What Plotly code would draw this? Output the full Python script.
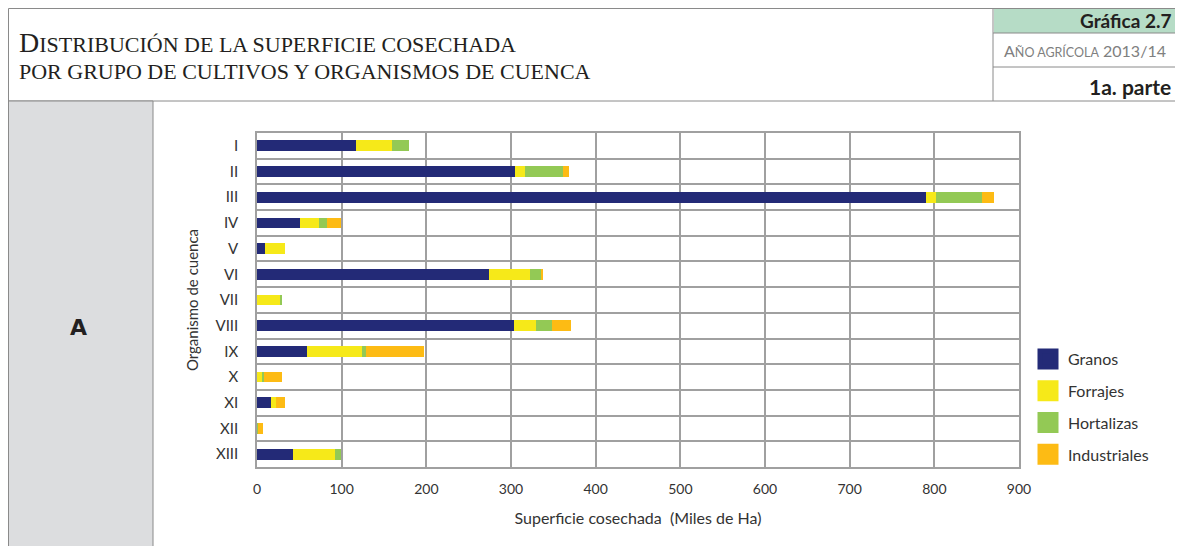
import plotly.graph_objects as go

# superficie cosechada (miles de ha) por organismo de cuenca
organismos = ['I', 'II', 'III', 'IV', 'V', 'VI', 'VII', 'VIII', 'IX', 'X', 'XI', 'XII', 'XIII']
granos = [117, 305, 790, 51, 9, 274, 0, 303, 59, 0.5, 17, 0, 42.5]
forrajes = [42, 12, 12, 22, 24, 49, 28, 27, 65, 6, 6, 0, 49.5]
hortalizas = [20, 45, 54, 10, 0, 13, 1.5, 18, 5, 1.5, 0, 1, 7]
industriales = [0, 7, 15, 16, 0, 1, 0, 23, 68, 21.5, 10.5, 6, 0]

series = [
    ('Granos', granos, '#232A77'),
    ('Forrajes', forrajes, '#F6E919'),
    ('Hortalizas', hortalizas, '#93C955'),
    ('Industriales', industriales, '#FDBB14'),
]

# the page body has an 8px margin, so the figure is drawn 8px smaller
# and every pixel position below is given in window coordinates
OFF = 8
W, H = 1183 - OFF, 546 - OFF
PL, PR, PT, PB = 257, 1019, 133, 467  # plot area in window pixels


def px(x):
    return (x - PL) / (PR - PL)


def py(y):
    return (PB - y) / (PB - PT)


fig = go.Figure()
for name, vals, color in series:
    fig.add_trace(go.Bar(
        y=organismos, x=vals, name=name, orientation='h',
        marker=dict(color=color, line=dict(width=0)),
        width=0.42, showlegend=False,
    ))
    # legend swatch
    fig.add_trace(go.Scatter(
        x=[None], y=[None], mode='markers', name=name,
        marker=dict(symbol='square', size=16, color=color, line=dict(color=color, width=5)),
        legendgroup=name,
    ))

grid = '#a0a0a0'
fig.update_layout(
    width=W, height=H,
    margin=dict(l=PL - OFF, r=W - (PR - OFF), t=PT - OFF, b=H - (PB - OFF)),
    barmode='stack',
    paper_bgcolor='white', plot_bgcolor='white',
    font=dict(family='Lato, sans-serif', color='#333333'),
    xaxis=dict(
        range=[0, 900], dtick=100, showgrid=True, gridcolor=grid, gridwidth=1.5,
        showline=True, linecolor=grid, linewidth=1.5, mirror=True, zeroline=False,
        tickfont=dict(size=14, color='#333333'), ticklabelstandoff=8,
        title=dict(text='Superficie cosechada  (Miles de Ha)', font=dict(size=16, color='#333333'), standoff=17),
    ),
    yaxis=dict(
        autorange='reversed', tickson='boundaries', showgrid=True, gridcolor=grid, gridwidth=1.5,
        showline=True, linecolor=grid, linewidth=1.5, mirror=True, ticks='',
        tickfont=dict(size=15, color='#333333'), ticklabelstandoff=14,
        title=dict(text='Organismo de cuenca', font=dict(size=15, color='#333333'), standoff=13),
    ),
    legend=dict(
        x=px(1028), y=py(342), xanchor='left', yanchor='top',
        font=dict(size=16, color='#333333'), tracegroupgap=8, bgcolor='rgba(0,0,0,0)',
    ),
)

line_c = '#8a8a8a'
shapes = [
    # header frame
    dict(type='rect', x0=px(8.5), x1=px(1181), y0=py(8.5), y1=py(101), line=dict(color=line_c, width=1)),
    dict(type='rect', x0=px(994), x1=px(1181), y0=py(9), y1=py(33), fillcolor='#B6DCC6', line=dict(width=0)),
    dict(type='line', x0=px(993), x1=px(993), y0=py(8.5), y1=py(101), line=dict(color=line_c, width=1)),
    dict(type='line', x0=px(993), x1=px(1181), y0=py(33), y1=py(33), line=dict(color=line_c, width=1)),
    dict(type='line', x0=px(993), x1=px(1181), y0=py(67), y1=py(67), line=dict(color=line_c, width=1)),
    # grey side panel
    dict(type='rect', x0=px(8.5), x1=px(153), y0=py(101), y1=py(550), fillcolor='#DCDDDF',
         line=dict(color=line_c, width=1)),
]
for s in shapes:
    s.update(xref='paper', yref='paper', layer='below')
fig.update_layout(shapes=shapes)

serif = 'Liberation Serif, serif'
title1 = '<span style="font-size:28px">D</span>ISTRIBUCIÓN DE LA SUPERFICIE COSECHADA'
title2 = 'POR GRUPO DE CULTIVOS Y ORGANISMOS DE CUENCA'
ann = [
    dict(text=title1, x=px(17), y=py(42), xanchor='left', yanchor='middle',
         font=dict(family=serif, size=22, color='#231F20')),
    dict(text=title2, x=px(17), y=py(72), xanchor='left', yanchor='middle',
         font=dict(family=serif, size=22, color='#231F20')),
    dict(text='<b>Gráfica 2.7</b>', x=px(1173), y=py(20), xanchor='right', yanchor='middle',
         font=dict(size=19, color='#231F20')),
    dict(text='A<span style="font-size:12.5px">ÑO AGRÍCOLA</span> 2013/14', x=px(1168), y=py(51),
         xanchor='right', yanchor='middle', font=dict(size=16, color='#808080')),
    dict(text='<b>1a. parte</b>', x=px(1173), y=py(87), xanchor='right', yanchor='middle',
         font=dict(size=21, color='#231F20')),
    dict(text='<b>A</b>', x=px(78), y=py(327), xanchor='center', yanchor='middle',
         font=dict(family='DejaVu Sans, sans-serif', size=22, color='#231F20')),
]
for a in ann:
    a.update(xref='paper', yref='paper', showarrow=False)
fig.update_layout(annotations=ann)

fig.write_html("out.html")
